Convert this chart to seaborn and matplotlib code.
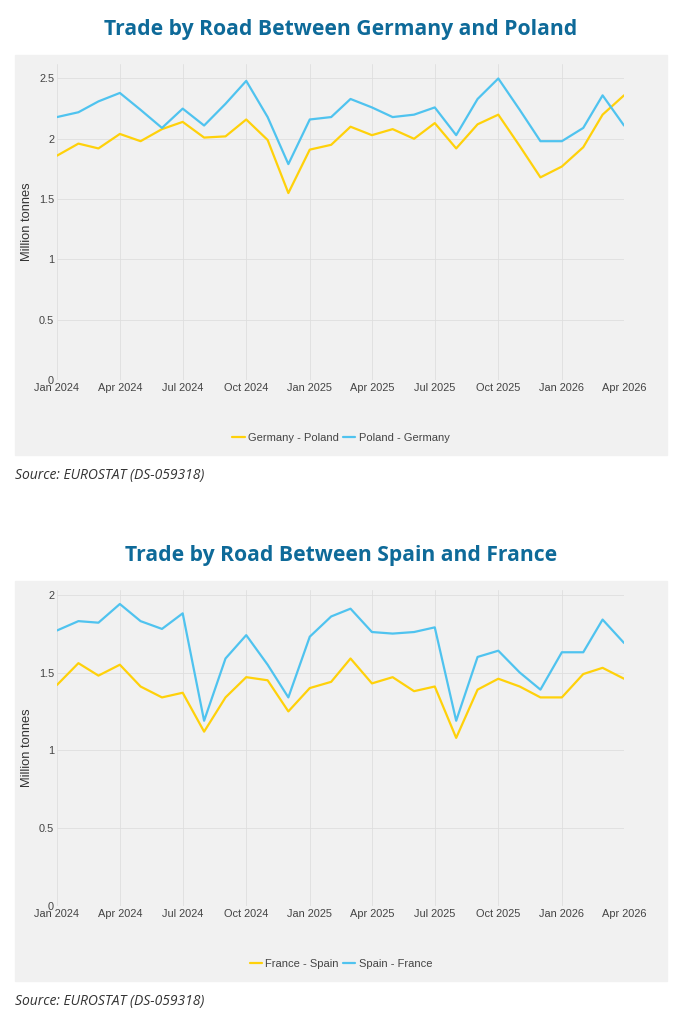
import pandas as pd
import matplotlib
matplotlib.use("Agg")
import matplotlib.pyplot as plt
import matplotlib.dates as mdates
from matplotlib.patches import Rectangle
import seaborn as sns

sns.set_style('white')
plt.rcParams['font.family'] = ['Liberation Sans', 'DejaVu Sans']

months = pd.date_range("2024-01-01", "2026-04-01", freq="MS")

germany_poland = [1.86, 1.96, 1.92, 2.04, 1.98, 2.08, 2.14, 2.01, 2.02, 2.16, 1.99, 1.55,
                  1.91, 1.95, 2.10, 2.03, 2.08, 2.00, 2.13, 1.92, 2.12, 2.20, 1.94, 1.68,
                  1.77, 1.93, 2.20, 2.36]
poland_germany = [2.18, 2.22, 2.31, 2.38, 2.24, 2.09, 2.25, 2.11, 2.29, 2.48, 2.18, 1.79,
                  2.16, 2.18, 2.33, 2.26, 2.18, 2.20, 2.26, 2.03, 2.33, 2.50, 2.24, 1.98,
                  1.98, 2.09, 2.36, 2.11]

france_spain = [1.42, 1.56, 1.48, 1.55, 1.41, 1.34, 1.37, 1.12, 1.34, 1.47, 1.45, 1.25,
                1.40, 1.44, 1.59, 1.43, 1.47, 1.38, 1.41, 1.08, 1.39, 1.46, 1.41, 1.34,
                1.34, 1.49, 1.53, 1.46]
spain_france = [1.77, 1.83, 1.82, 1.94, 1.83, 1.78, 1.88, 1.19, 1.59, 1.74, 1.55, 1.34,
                1.73, 1.86, 1.91, 1.76, 1.75, 1.76, 1.79, 1.19, 1.60, 1.64, 1.50, 1.39,
                1.63, 1.63, 1.84, 1.69]

W, H = 682, 1024
YELLOW = "#ffd10a"
BLUE = "#4fc3ef"
TITLE_C = "#0e6a99"


def draw_panel(fig, top, title, names, series, ymax, yticks):
    # grey card behind the chart
    fig.patches.append(Rectangle((15 / W, 1 - (top + 400) / H), 652 / W, 400 / H,
                                 transform=fig.transFigure, color="#f1f1f1", zorder=-10))
    fig.text(0.5, 1 - (top - 25) / H, title, ha="center", va="center",
             family="Open Sans", weight="bold", fontsize=15.2, color=TITLE_C)
    ax = fig.add_axes([57 / W, 1 - (top + 325) / H, 567 / W, 316 / H])
    ax.set_facecolor("none")
    df = pd.DataFrame({"month": list(months) * 2,
                       "value": series[0] + series[1],
                       "route": [names[0]] * len(months) + [names[1]] * len(months)})
    sns.lineplot(data=df, x="month", y="value", hue="route", palette=[YELLOW, BLUE],
                 linewidth=1.6, ax=ax)
    ax.set_xlim(months[0], months[-1])
    ax.set_ylim(0, ymax)
    ax.set_yticks(yticks)
    ax.set_yticklabels([("%g" % v) for v in yticks])
    ax.xaxis.set_major_locator(mdates.MonthLocator(bymonth=[1, 4, 7, 10]))
    ax.xaxis.set_major_formatter(mdates.DateFormatter("%b %Y"))
    ax.grid(True, color="#dedede", linewidth=0.6)
    for s in ax.spines.values():
        s.set_visible(False)
    ax.tick_params(length=0, labelsize=7.9, colors="#444444", pad=2)
    ax.set_xlabel("")
    ax.set_ylabel("Million tonnes", fontsize=9.3, color="#333333", labelpad=4)
    ax.legend(loc="center", bbox_to_anchor=(0.5, 1 - (top + 383) / H),
              bbox_transform=fig.transFigure, ncol=2, frameon=False, fontsize=8,
              handlelength=1.1, handletextpad=0.3, columnspacing=0.4,
              labelcolor="#444444")
    fig.text(15 / W, 1 - (top + 420) / H, "Source: EUROSTAT (DS-059318)",
             ha="left", va="center", family="Open Sans", style="italic",
             fontsize=10, color="#333333")
    return ax


fig = plt.figure(figsize=(W / 100, H / 100), dpi=100)
draw_panel(fig, 55, "Trade by Road Between Germany and Poland",
           ["Germany - Poland", "Poland - Germany"],
           [germany_poland, poland_germany], 2.62, [0, 0.5, 1, 1.5, 2, 2.5])
draw_panel(fig, 581, "Trade by Road Between Spain and France",
           ["France - Spain", "Spain - France"],
           [france_spain, spain_france], 2.03, [0, 0.5, 1, 1.5, 2])

fig.savefig("out.png", dpi=100)
